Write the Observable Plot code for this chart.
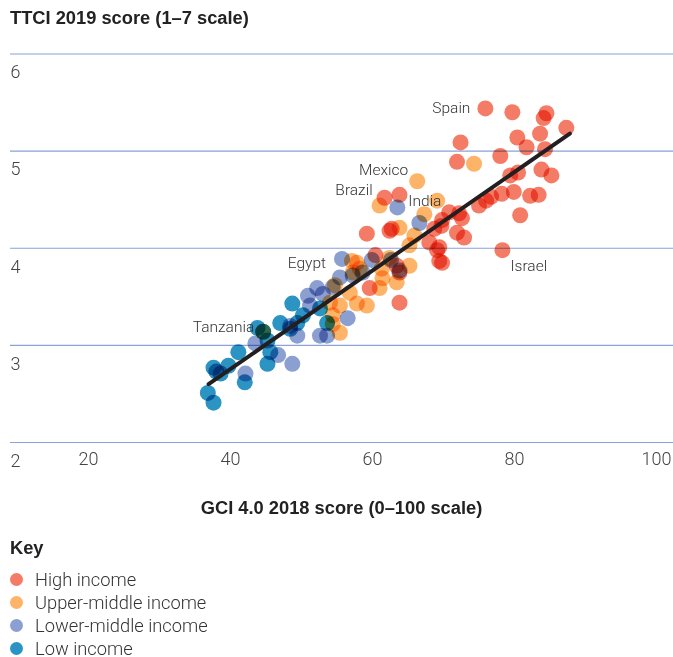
<!DOCTYPE html>
<html><head><meta charset="utf-8">
<script src="https://cdn.jsdelivr.net/npm/d3@7"></script>
<script src="https://cdn.jsdelivr.net/npm/@observablehq/plot@0.6"></script>
<style>
body{margin:0;background:#fff;width:673px;height:657px;position:relative;overflow:hidden;font-family:"Liberation Sans",Arial,sans-serif;}
.title{position:absolute;left:10px;top:8px;font-weight:bold;font-size:18.3px;color:#222;line-height:20px;}
#chart{position:absolute;left:0;top:40px;}
.xlabel{position:absolute;left:0;width:683px;text-align:center;top:498px;font-weight:bold;font-size:18.3px;color:#222;line-height:20px;}
.key{position:absolute;left:10px;top:538px;font-weight:bold;font-size:18.3px;color:#222;line-height:20px;}
.legend{position:absolute;left:10px;top:568px;font-family:Roboto,sans-serif;font-weight:300;font-size:18.3px;color:#333;}
.legend div{height:23px;line-height:22px;display:flex;align-items:center;}
.legend span.sw{display:inline-block;width:13px;height:13px;border-radius:50%;margin-right:12px;}
svg circle{mix-blend-mode:multiply;}
</style>
</head><body>
<div class="title">TTCI 2019 score (1–7 scale)</div>
<div id="chart"></div>
<div class="xlabel">GCI 4.0 2018 score (0–100 scale)</div>
<div class="key">Key</div>
<div class="legend" id="legend"></div>
<script>
// ---- data (GCI 4.0 2018 score, TTCI 2019 score) ----
const groups = ["High income", "Upper-middle income", "Lower-middle income", "Low income"];
const groupColors = ["#f47c67", "#fdb368", "#8b9fd1", "#2b94c3"];

const highIncome = [
  [75.9,5.44],[79.7,5.40],[84.5,5.39],[84.1,5.34],[87.3,5.24],[72.4,5.09],[80.4,5.14],[83.6,5.18],
  [81.7,5.04],[84.3,5.02],[78.0,4.95],[71.9,4.89],[79.4,4.75],[80.5,4.78],[83.8,4.81],[85.2,4.75],
  [79.9,4.58],[82.2,4.54],[83.4,4.55],[78.2,4.56],[76.0,4.49],[76.7,4.53],[75.0,4.44],[72.2,4.36],
  [70.8,4.37],[72.6,4.31],[69.7,4.23],[71.9,4.16],[72.9,4.11],[80.8,4.34],[78.3,3.98],[69.4,4.01],
  [69.4,3.87],[61.7,4.52],[63.8,4.55],[59.2,4.15],[62.7,4.20],[62.4,4.18],[68.7,4.20],[69.8,4.29],
  [68.0,4.06],[69.1,3.98],[69.8,3.85],[60.4,3.93],[63.4,3.82],[63.8,3.75],[59.6,3.59],[63.8,3.44]
];
const upperMiddle = [
  [74.3,4.87],[66.3,4.69],[61.0,4.44],[69.1,4.49],[63.8,4.21],[65.9,4.13],[65.2,4.03],[65.2,3.82],
  [57.8,3.85],[57.2,3.75],[61.4,3.69],[63.4,3.65],[59.2,3.41],[57.8,3.43],[54.0,3.44],[55.4,3.41],
  [55.4,3.13],[54.4,3.31],[58.2,3.79],[61.3,3.79],[61.0,3.59],[44.6,3.14],[57.1,3.87],[67.3,4.35],
  [54.7,3.62],[56.8,3.54],[62.4,3.90],[54.4,3.22]
];
const lowerMiddle = [
  [55.7,3.89],[63.5,4.42],[66.6,4.26],[57.2,3.72],[55.4,3.70],[52.2,3.59],[50.9,3.51],[53.0,3.53],
  [51.2,3.41],[56.5,3.28],[52.6,3.10],[53.6,3.10],[48.4,3.20],[49.4,3.10],[43.5,3.02],[46.7,2.90],
  [48.7,2.81],[42.1,2.71],[59.9,3.88],[58.6,3.75],[63.8,3.77],[54.4,3.60],[62.6,3.88]
];
const lowIncome = [
  [36.8,2.51],[37.6,2.41],[37.6,2.77],[38.0,2.73],[38.6,2.71],[39.7,2.79],[41.1,2.93],[42.0,2.62],
  [43.8,3.18],[44.6,3.14],[45.2,3.05],[45.6,2.93],[45.2,2.81],[47.0,3.23],[48.7,3.43],[50.2,3.31],
  [49.4,3.23],[48.4,3.17],[52.6,3.38],[53.6,3.23]
];
const trendLine = [[36.9,2.60],[87.8,5.18]];
const labels = [
  {name:"Spain", x:75.9, y:5.44},
  {name:"Mexico", x:66.3, y:4.69},
  {name:"Brazil", x:61.0, y:4.44},
  {name:"India", x:63.5, y:4.42},
  {name:"Egypt", x:55.7, y:3.89},
  {name:"Tanzania", x:44.6, y:3.14},
  {name:"Israel", x:78.3, y:3.98}
];
const xTicks = [20, 40, 60, 80, 100];
const yTicks = [2, 3, 4, 5, 6];

// ---- label placement styles ----
const labelStyle = {
  Spain:{dx:-15, dy:0, textAnchor:"end"},
  Mexico:{dx:-9, dy:-11, textAnchor:"end"},
  Brazil:{dx:-7, dy:-15, textAnchor:"end"},
  India:{dx:11, dy:-6, textAnchor:"start"},
  Egypt:{dx:-16, dy:4, textAnchor:"end"},
  Tanzania:{dx:-9, dy:-5, textAnchor:"end"},
  Israel:{dx:8, dy:16, textAnchor:"start"}
};

const series = [highIncome, upperMiddle, lowerMiddle, lowIncome];
const points = [];
series.forEach((arr, i) => arr.forEach(([x, y]) => points.push({x, y, group: groups[i]})));

const chart = Plot.plot({
  width: 673,
  height: 440,
  marginLeft: 10,
  marginRight: 0,
  marginTop: 13.5,
  marginBottom: 38,
  x: {domain: [9.0, 102.4]},
  y: {domain: [2, 6]},
  color: {domain: groups, range: groupColors},
  style: {fontFamily: "Roboto, sans-serif", fontSize: "18px", fontWeight: 300, background: "#fff"},
  marks: [
    Plot.ruleY(yTicks, {stroke: "#8aa2d8", strokeWidth: 1.2}),
    Plot.axisY(yTicks, {anchor: "left", tickSize: 0, tickPadding: 0, textAnchor: "start", dy: 18.5, fill: "#444", fontSize: 18, tickFormat: d => String(d), label: null}),
    Plot.axisX(xTicks, {anchor: "bottom", tickSize: 0, tickPadding: 10, fill: "#444", fontSize: 18, tickFormat: d => String(d), label: null}),
    Plot.dot(points, {x: "x", y: "y", r: 8, fill: "group", stroke: "none", mixBlendMode: "multiply"}),
    Plot.line(trendLine, {x: d => d[0], y: d => d[1], stroke: "#231f20", strokeWidth: 4}),
    ...labels.map(l => Plot.text([l], {x: "x", y: "y", text: "name", fontSize: 15.5, fill: "#333", fontWeight: 300, ...labelStyle[l.name]}))
  ]
});
document.getElementById("chart").appendChild(chart);

const legend = document.getElementById("legend");
groups.forEach((g, i) => {
  const row = document.createElement("div");
  row.innerHTML = `<span class="sw" style="background:${groupColors[i]}"></span>${g}`;
  legend.appendChild(row);
});
</script>
</body></html>
